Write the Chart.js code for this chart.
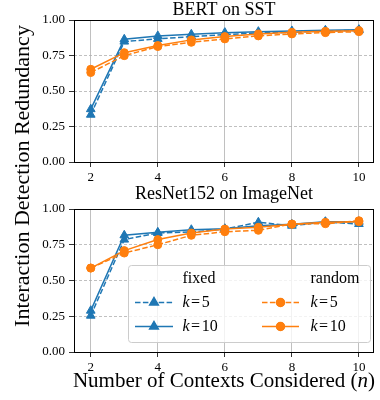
<!DOCTYPE html>
<html><head><meta charset="utf-8">
<script src="https://cdn.jsdelivr.net/npm/chart.js@4/dist/chart.umd.min.js"></script>
<style>
html,body{margin:0;padding:0;background:#fff;}
#wrap{position:relative;width:380px;height:400px;overflow:hidden;}
canvas{position:absolute;left:0;top:0;}
</style></head><body>
<div id="wrap"><canvas id="c1" width="380" height="400"></canvas><canvas id="c2" width="380" height="400"></canvas></div>
<script>
// ---- data ----
const contexts = [2, 3, 4, 5, 6, 7, 8, 9, 10];
const xTickValues = [2, 4, 6, 8, 10];
const yTickValues = [0, 0.25, 0.5, 0.75, 1.0];
const panelTitles = ['BERT on SST', 'ResNet152 on ImageNet'];
const legendGroups = ['fixed', 'random'];
const kValues = ['5', '10'];

const bertFixedK5   = [0.333, 0.848, 0.867, 0.883, 0.897, 0.909, 0.913, 0.923, 0.927];
const bertFixedK10  = [0.372, 0.864, 0.888, 0.899, 0.911, 0.918, 0.923, 0.927, 0.932];
const bertRandomK5  = [0.630, 0.749, 0.813, 0.843, 0.867, 0.888, 0.902, 0.911, 0.918];
const bertRandomK10 = [0.653, 0.770, 0.820, 0.860, 0.883, 0.902, 0.913, 0.920, 0.925];

const resFixedK5    = [0.254, 0.786, 0.832, 0.839, 0.860, 0.907, 0.883, 0.909, 0.895];
const resFixedK10   = [0.289, 0.816, 0.837, 0.855, 0.862, 0.883, 0.893, 0.911, 0.911];
const resRandomK5   = [0.587, 0.692, 0.750, 0.816, 0.841, 0.851, 0.895, 0.897, 0.918];
const resRandomK10  = [0.587, 0.709, 0.786, 0.832, 0.860, 0.872, 0.893, 0.907, 0.911];

// ---- styles ----
const BLUE = '#1f77b4', ORANGE = '#ff7f0e';
const SERIF = '"Liberation Serif", "Times New Roman", serif';
const GRID = '#b0b0b0';

function ds(label, values, color, dashed, shape, order) {
  return {
    label, order,
    data: contexts.map((x, i) => ({x, y: values[i]})),
    borderColor: color, backgroundColor: color,
    borderWidth: 1.5, borderDash: dashed ? [5.5, 2.4] : [],
    pointStyle: shape, pointRadius: shape === 'triangle' ? 5 : 4,
    pointBorderWidth: 1, pointBorderColor: color, pointBackgroundColor: color,
    tension: 0, fill: false
  };
}

function makeOptions(padTop, padBottom) {
  return {
    responsive: false, animation: false, devicePixelRatio: 1,
    layout: {padding: {left: 30, right: 4, top: padTop, bottom: padBottom}},
    plugins: {legend: {display: false}, tooltip: {enabled: false}, title: {display: false}},
    scales: {
      x: {
        type: 'linear', min: 1.5, max: 10.45,
        afterBuildTicks: s => { s.ticks = xTickValues.map(v => ({value: v})); },
        afterFit: s => { s.height = 24; },
        ticks: {font: {family: SERIF, size: 13}, color: '#000', padding: 3, maxRotation: 0,
                callback: v => String(v)},
        grid: {color: GRID, lineWidth: 0.8, tickColor: '#000', tickLength: 5, tickWidth: 0.8},
        border: {display: false, dash: []}
      },
      y: {
        min: 0, max: 1,
        afterBuildTicks: s => { s.ticks = yTickValues.map(v => ({value: v})); },
        afterFit: s => { s.width = 44; },
        ticks: {font: {family: SERIF, size: 13}, color: '#000', padding: 4,
                callback: v => Number(v).toFixed(2)},
        grid: {color: GRID, lineWidth: 0.8, tickColor: '#000', tickLength: 5, tickWidth: 0.8, tickBorderDash: []},
        border: {display: false, dash: [3, 2]}
      }
    }
  };
}

const framePlugin = {
  id: 'frame',
  afterDatasetsDraw(chart) {
    const {ctx, chartArea: a} = chart;
    ctx.save();
    ctx.setLineDash([]);
    ctx.strokeStyle = '#000'; ctx.lineWidth = 1;
    ctx.strokeRect(Math.round(a.left) + 0.5, Math.round(a.top) + 0.5,
                   Math.round(a.right - a.left) - 1, Math.round(a.bottom - a.top));
    ctx.restore();
  }
};

function titlePlugin(text, baseline) {
  return {
    id: 'ptitle',
    afterDraw(chart) {
      const {ctx, chartArea: a} = chart;
      ctx.save();
      ctx.font = '18px ' + SERIF; ctx.fillStyle = '#000';
      ctx.textAlign = 'center'; ctx.textBaseline = 'alphabetic';
      ctx.fillText(text, (a.left + a.right) / 2, baseline);
      ctx.restore();
    }
  };
}

function drawMathK(ctx, x, y, val, size) {
  ctx.textAlign = 'left';
  ctx.font = 'italic ' + size + 'px ' + SERIF;
  ctx.fillText('k', x, y);
  let cx = x + ctx.measureText('k').width + 1.5;
  ctx.font = size + 'px ' + SERIF;
  ctx.fillText('=', cx, y);
  cx += ctx.measureText('=').width + 1.5;
  ctx.fillText(val, cx, y);
}

const decorPlugin = {
  id: 'decor',
  afterDraw(chart) {
    const {ctx} = chart;
    const dsets = chart.data.datasets;
    ctx.save();
    ctx.fillStyle = '#000';
    // legend box
    const bx = 128, by = 265, bw = 242, bh = 77;
    ctx.beginPath();
    ctx.roundRect(bx + 0.5, by + 0.5, bw, bh, 3);
    ctx.fillStyle = 'rgba(255,255,255,0.8)'; ctx.fill();
    ctx.strokeStyle = '#cccccc'; ctx.lineWidth = 1; ctx.stroke();
    const cols = [{l0: 135, l1: 173, tx: 182.5}, {l0: 262, l1: 299, tx: 310.5}];
    const rows = [279, 302.5, 326.5];
    ctx.textBaseline = 'middle';
    legendGroups.forEach((g, ci) => {
      const c = cols[ci];
      ctx.fillStyle = '#000';
      ctx.font = '16px ' + SERIF; ctx.textAlign = 'left';
      ctx.fillText(g, c.tx, rows[0]);
      kValues.forEach((kv, ri) => {
        const d = dsets[ci * 2 + ri];
        const y = rows[ri + 1];
        ctx.save();
        ctx.strokeStyle = d.borderColor; ctx.lineWidth = d.borderWidth;
        ctx.setLineDash(d.borderDash);
        ctx.beginPath(); ctx.moveTo(c.l0, y); ctx.lineTo(c.l1, y); ctx.stroke();
        ctx.setLineDash([]);
        Chart.helpers.drawPoint(ctx, {pointStyle: d.pointStyle, radius: d.pointRadius, borderWidth: 1, rotation: 0},
                                (c.l0 + c.l1) / 2, y);
        ctx.fillStyle = d.backgroundColor; ctx.fill();
        ctx.restore();
        ctx.fillStyle = '#000';
        drawMathK(ctx, c.tx, y, kv, 16);
      });
    });
    // x axis title
    ctx.fillStyle = '#000';
    ctx.textBaseline = 'alphabetic';
    const p1 = 'Number of Contexts Considered (', p2 = 'n', p3 = ')';
    const fs = 21;
    ctx.font = fs + 'px ' + SERIF; const w1 = ctx.measureText(p1).width, w3 = ctx.measureText(p3).width;
    ctx.font = 'italic ' + fs + 'px ' + SERIF; const w2 = ctx.measureText(p2).width;
    let sx = 224 - (w1 + w2 + w3) / 2;
    ctx.textAlign = 'left';
    ctx.font = fs + 'px ' + SERIF; ctx.fillText(p1, sx, 386.5);
    ctx.font = 'italic ' + fs + 'px ' + SERIF; ctx.fillText(p2, sx + w1, 386.5);
    ctx.font = fs + 'px ' + SERIF; ctx.fillText(p3, sx + w1 + w2, 386.5);
    // y axis title
    ctx.translate(28.5, 176);
    ctx.rotate(-Math.PI / 2);
    ctx.textAlign = 'center';
    ctx.font = '22px ' + SERIF;
    ctx.fillText('Interaction Detection Redundancy', 0, 0);
    ctx.restore();
  }
};

function panelData(a, b, c, d) {
  return {datasets: [
    ds('fixed k=5', a, BLUE, true, 'triangle', 4),
    ds('fixed k=10', b, BLUE, false, 'triangle', 3),
    ds('random k=5', c, ORANGE, true, 'circle', 2),
    ds('random k=10', d, ORANGE, false, 'circle', 1)
  ]};
}

new Chart(document.getElementById('c1'), {
  type: 'line',
  data: panelData(bertFixedK5, bertFixedK10, bertRandomK5, bertRandomK10),
  options: makeOptions(20, 400 - 162 - 24),
  plugins: [framePlugin, titlePlugin(panelTitles[0], 15)]
});
new Chart(document.getElementById('c2'), {
  type: 'line',
  data: panelData(resFixedK5, resFixedK10, resRandomK5, resRandomK10),
  options: makeOptions(209, 400 - 352 - 24),
  plugins: [framePlugin, titlePlugin(panelTitles[1], 198.5), decorPlugin]
});
</script>
</body></html>
